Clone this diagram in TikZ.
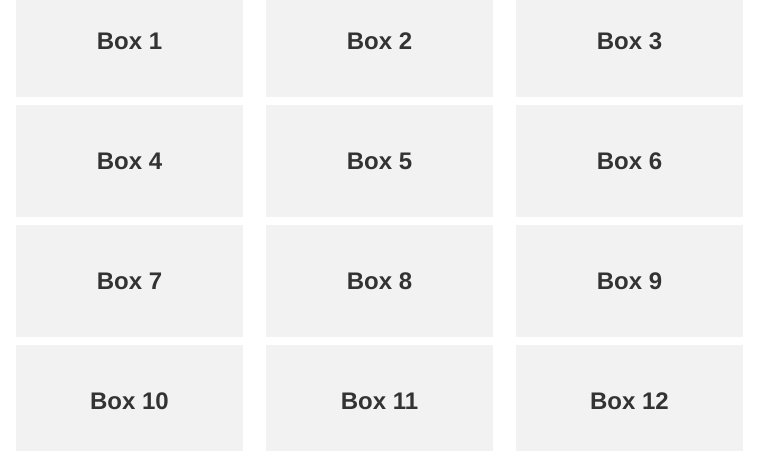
\documentclass[tikz,border=0pt]{standalone}
\usepackage{fontspec}
\setmainfont{Liberation Sans}
\definecolor{boxfill}{HTML}{F2F2F2}
\definecolor{boxtext}{HTML}{333333}
\tikzset{
  gridbox/.style={fill=boxfill, draw=none, minimum width=227pt, minimum height=112pt, inner sep=0pt, text=boxtext, font=\fontsize{24pt}{28pt}\selectfont\bfseries}
}
\begin{document}
\begin{tikzpicture}[x=1pt,y=-1pt]
\useasboundingbox (0,0) rectangle (759,450);
\begin{scope}
\clip (0,0) rectangle (759,450);
\node[gridbox] (b1) at (129.5,41) {Box 1};
\node[gridbox] (b2) at (379.5,41) {Box 2};
\node[gridbox] (b3) at (629.5,41) {Box 3};
\node[gridbox] (b4) at (129.5,161) {Box 4};
\node[gridbox] (b5) at (379.5,161) {Box 5};
\node[gridbox] (b6) at (629.5,161) {Box 6};
\node[gridbox] (b7) at (129.5,281) {Box 7};
\node[gridbox] (b8) at (379.5,281) {Box 8};
\node[gridbox] (b9) at (629.5,281) {Box 9};
\node[gridbox] (b10) at (129.5,401) {Box 10};
\node[gridbox] (b11) at (379.5,401) {Box 11};
\node[gridbox] (b12) at (629.5,401) {Box 12};
\end{scope}
\end{tikzpicture}
\end{document}
